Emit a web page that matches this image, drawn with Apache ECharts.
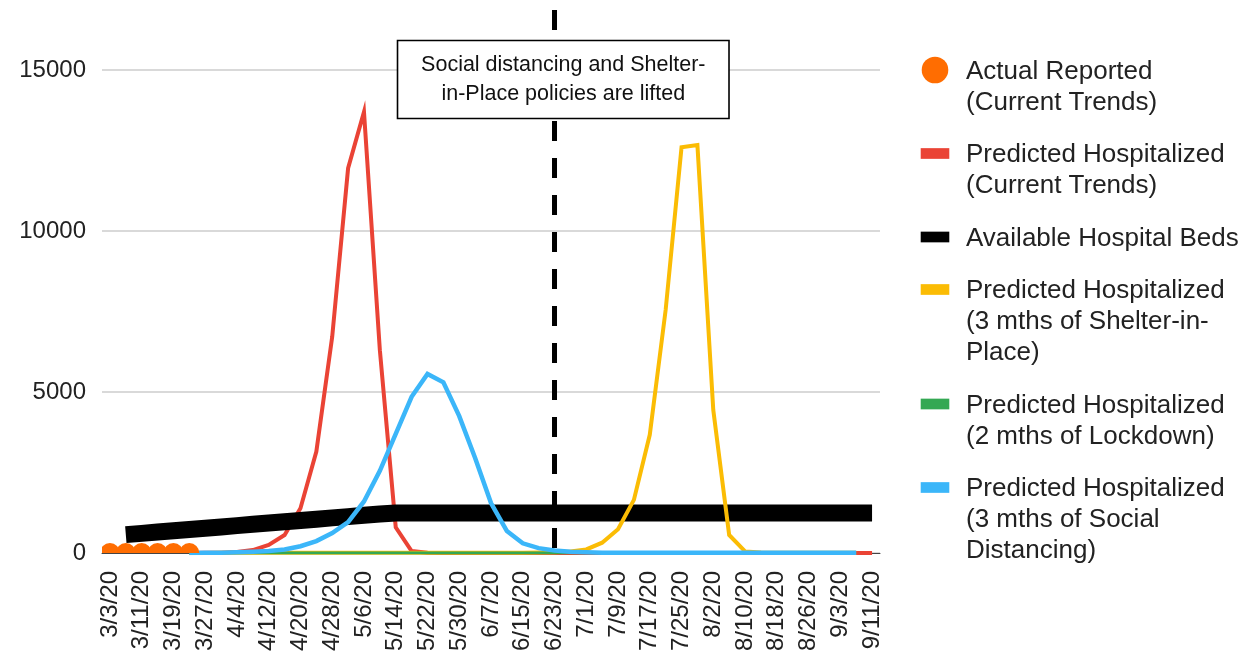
<!DOCTYPE html>
<html>
<head>
<meta charset="utf-8">
<script src="https://cdn.jsdelivr.net/npm/echarts@6/dist/echarts.min.js"></script>
<style>
html,body{margin:0;padding:0;background:#fff;}
#chart{width:1247px;height:658px;}
</style>
</head>
<body>
<div id="chart"></div>
<script>
// ---------- DATA ----------
const dates = ['3/3/20','3/7/20','3/11/20','3/15/20','3/19/20','3/23/20','3/27/20','3/31/20','4/4/20','4/8/20',
  '4/12/20','4/16/20','4/20/20','4/24/20','4/28/20','5/2/20','5/6/20','5/10/20','5/14/20','5/18/20',
  '5/22/20','5/26/20','5/30/20','6/3/20','6/7/20','6/11/20','6/15/20','6/19/20','6/23/20','6/27/20',
  '7/1/20','7/5/20','7/9/20','7/13/20','7/17/20','7/21/20','7/25/20','7/29/20','8/2/20','8/6/20',
  '8/10/20','8/14/20','8/18/20','8/22/20','8/26/20','8/30/20','9/3/20','9/7/20','9/11/20'];

const yTicks = [0, 5000, 10000, 15000];

const seriesNames = [
  'Actual Reported\n(Current Trends)',
  'Predicted Hospitalized\n(Current Trends)',
  'Available Hospital Beds',
  'Predicted Hospitalized\n(3 mths of Shelter-in-\nPlace)',
  'Predicted Hospitalized\n(2 mths of Lockdown)',
  'Predicted Hospitalized\n(3 mths of Social\nDistancing)'
];

const actualReported = [0, 0, 0, 0, 0, 0];

const currentTrends = [null,null,null,null,null, 0,5,10,30,90, 250,560,1390,3150,6720,
  11950,13700,6300,800,60, 10,0,0,0,0, 0,0,0,0,0, 0,0,0,0,0, 0,0,0,0,0, 0,0,0,0,0, 0,0,0,0];

const hospitalBeds = [null, 570,610,650,690, 730,770,810,850,890, 930,970,1010,1050,1090,
  1130,1170,1210,1245,1245, 1245,1245,1245,1245,1245, 1245,1245,1245,1245,1245,
  1245,1245,1245,1245,1245, 1245,1245,1245,1245,1245, 1245,1245,1245,1245,1245, 1245,1245,1245,1245];

const shelterInPlace = [null,null,null,null,null, 0,0,5,5,5, 5,10,10,10,10,
  10,10,10,10,10, 10,10,10,10,10, 10,10,15,25,50, 110,320,740,1650,3670,
  7550,12600,12670,4440,560, 50,15,5,5,5, 5,5,5,null];

const lockdown = [null,null,null,null,null, 0,0,0,0,0, 0,0,0,0,0, 0,0,0,0,0,
  0,0,0,0,0, 0,0,0,0,0, 0,0,0,0,0, 0,0,0,0,0, 0,0,0,0,0, 0,0,0,null];

const socialDistancing = [null,null,null,null,null, 0,5,10,20,35, 60,110,210,370,620,
  960,1600,2550,3700,4850, 5560,5300,4250,2950,1550, 680,300,150,80,40,
  20,10,5,5,5, 5,5,5,5,5, 5,5,5,5,5, 5,5,5,null];

const policyDate = '6/23/20';
const annotationText = 'Social distancing and Shelter-\nin-Place policies are lifted';

// ---------- STYLE ----------
const colors = ['#ff6d01', '#ea4335', '#000000', '#fbbc04', '#34a853', '#3bb6f9'];
const FONT = '"Liberation Sans", Arial, Helvetica, sans-serif';

const chart = echarts.init(document.getElementById('chart'), null, {renderer: 'canvas'});

function lineSeries(name, data, color, width, z) {
  return {
    type: 'line', name: name, data: data, symbol: 'none', showSymbol: false,
    smooth: false, z: z,
    lineStyle: {color: color, width: width, join: 'miter', miterLimit: 10, cap: 'butt'},
    itemStyle: {color: color},
    emphasis: {disabled: true}
  };
}

const option = {
  animation: false,
  backgroundColor: '#ffffff',
  textStyle: {fontFamily: FONT},
  grid: {left: 102, right: 367, top: 70, bottom: 105, containLabel: false},
  xAxis: {
    type: 'category',
    data: dates,
    boundaryGap: true,
    axisTick: {show: false},
    axisLine: {show: true, lineStyle: {color: '#444', width: 1}},
    axisLabel: {rotate: 90, interval: 1, fontSize: 24, color: '#222', margin: 18, fontFamily: FONT},
    splitLine: {show: false}
  },
  yAxis: {
    type: 'value',
    min: yTicks[0], max: yTicks[yTicks.length - 1], interval: yTicks[1] - yTicks[0],
    axisLine: {show: false},
    axisTick: {show: false},
    axisLabel: {fontSize: 24, color: '#222', margin: 16, fontFamily: FONT,
      formatter: function (v) { return String(v); }},
    splitLine: {show: true, lineStyle: {color: '#cccccc', width: 1.5}}
  },
  series: [
    lineSeries(seriesNames[1], currentTrends, colors[1], 4, 2),
    lineSeries(seriesNames[2], hospitalBeds, colors[2], 17, 2),
    lineSeries(seriesNames[3], shelterInPlace, colors[3], 4, 2),
    lineSeries(seriesNames[4], lockdown, colors[4], 3, 2),
    lineSeries(seriesNames[5], socialDistancing, colors[5], 4.5, 2),
    {
      type: 'custom',
      name: seriesNames[0],
      clip: true,
      z: 3,
      encode: {x: 0, y: 1},
      data: actualReported.map(function (v, i) { return [i, v]; }),
      renderItem: function (params, api) {
        const p = api.coord([api.value(0), api.value(1)]);
        return {type: 'circle', shape: {cx: p[0], cy: p[1], r: 10}, style: {fill: colors[0]}};
      }
    }
  ]
};

chart.setOption(option);

// ---------- ANNOTATIONS & LEGEND ----------
const xPolicy = chart.convertToPixel({xAxisIndex: 0}, policyDate);
const yZero = chart.convertToPixel({yAxisIndex: 0}, 0);

const graphics = [];
graphics.push({
  type: 'line', z: 20, silent: true,
  shape: {x1: xPolicy, y1: 10, x2: xPolicy, y2: yZero},
  style: {stroke: '#000', lineWidth: 5, lineDash: [20, 17]}
});
graphics.push({
  type: 'rect', z: 21, silent: true,
  shape: {x: xPolicy - 157, y: 40.5, width: 331.5, height: 78},
  style: {fill: '#ffffff', stroke: '#000', lineWidth: 1.6}
});
graphics.push({
  type: 'text', z: 22, silent: true,
  style: {
    text: annotationText, x: xPolicy + 8.8, y: 50.5,
    align: 'center', verticalAlign: 'top', lineHeight: 29,
    font: '21.5px ' + FONT, fill: '#111'
  }
});

// legend (icons aligned with the first text line)
const LINE_H = 31, ITEM_GAP = 21.5;
let yLine = 70;
seriesNames.forEach(function (nm, k) {
  const nLines = nm.split('\n').length;
  if (k === 0) {
    graphics.push({type: 'circle', silent: true, shape: {cx: 935, cy: yLine, r: 13.3}, style: {fill: colors[k]}});
  } else {
    graphics.push({type: 'rect', silent: true, shape: {x: 920.7, y: yLine - 5.35, width: 28.6, height: 10.7}, style: {fill: colors[k]}});
  }
  graphics.push({
    type: 'text', silent: true,
    style: {
      text: nm, x: 966, y: yLine + 1.5 - LINE_H / 2,
      align: 'left', verticalAlign: 'top', lineHeight: LINE_H,
      font: '26px ' + FONT, fill: '#222'
    }
  });
  yLine += nLines * LINE_H + ITEM_GAP;
});

chart.setOption({graphic: graphics});
</script>
</body>
</html>
